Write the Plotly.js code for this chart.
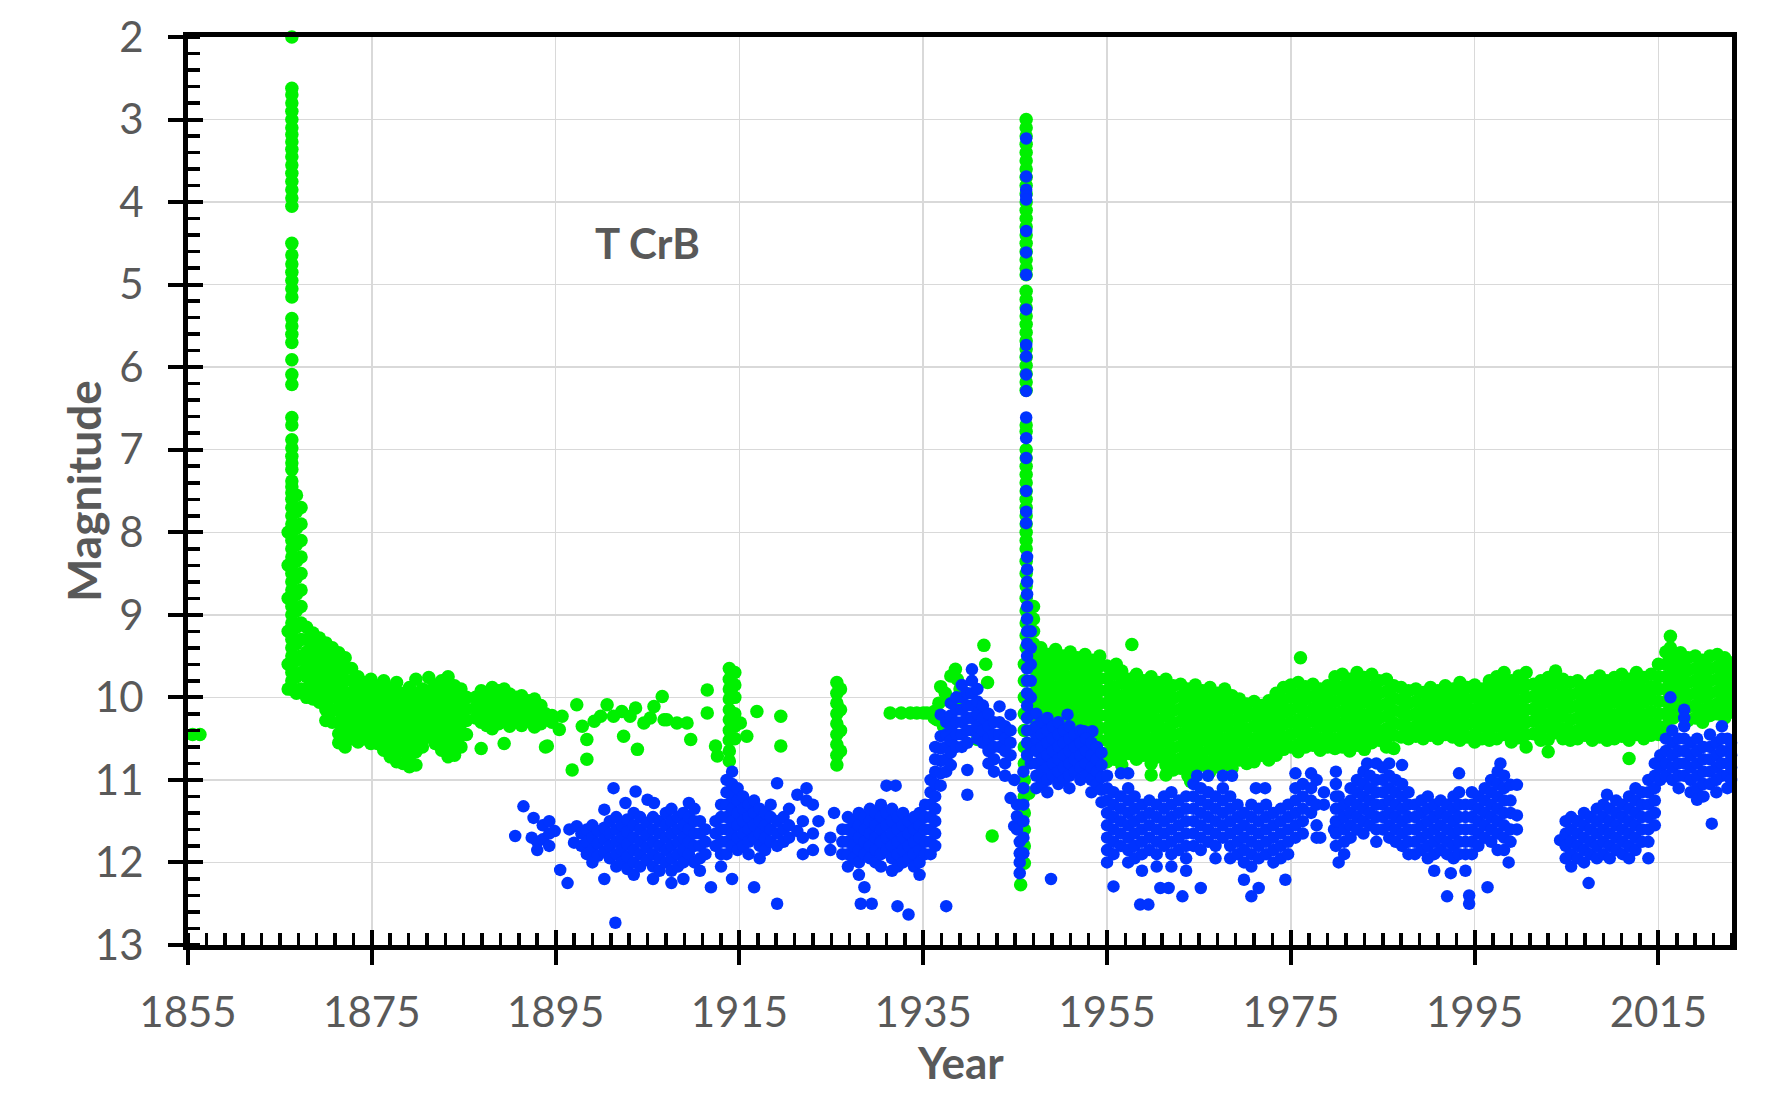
<!DOCTYPE html>
<html>
<head>
<meta charset="utf-8">
<script src="https://cdn.plot.ly/plotly-3.0.1.min.js"></script>
<style>
html, body { margin:0; padding:0; background:#fff; }
#gplot { width:1782px; height:1104px; }
</style>
</head>
<body>
<div id="gplot"></div>
<script>
// T CrB light curve, visual (green) and photographic/blue (blue) magnitudes
// each row: [year, mag, mag, ...]

var yearTicks = [1855, 1875, 1895, 1915, 1935, 1955, 1975, 1995, 2015];
var magTicks = [2, 3, 4, 5, 6, 7, 8, 9, 10, 11, 12, 13];

// green: 1855 - 1946
var greenEarly = [
  [1855.5, 10.45], [1856.3, 10.45],
  [1866.3, 2.0, 2.62, 2.7, 2.8, 2.9, 3.0, 3.1, 3.18, 3.27, 3.36, 3.45, 3.55, 3.65, 3.75, 3.85, 3.95, 4.05,
    4.5, 4.64, 4.75, 4.85, 4.95, 5.05, 5.15, 5.41, 5.5, 5.6, 5.7, 5.91, 6.09, 6.21, 6.61, 6.7,
    6.88, 6.98, 7.08, 7.16, 7.24, 7.38, 7.45, 7.52, 7.6, 7.7, 7.8, 7.9, 8.0, 8.1, 8.2, 8.3, 8.4,
    8.5, 8.6, 8.7, 8.8, 8.9, 9.0, 9.1, 9.2, 9.3, 9.4, 9.5, 9.6, 9.7, 9.8, 9.9],
  [1865.9, 8.0, 8.4, 8.8, 9.2, 9.6, 9.9],
  [1866.8, 7.55, 7.75, 7.95, 8.15, 8.35, 8.55, 8.75, 8.95, 9.15, 9.35, 9.55, 9.75, 9.95],
  [1867.3, 7.7, 7.9, 8.1, 8.3, 8.5, 8.7, 8.9, 9.1, 9.3, 9.5, 9.7, 9.9],
  [1867.9, 9.15, 9.3, 9.45, 9.6, 9.75, 9.9, 10.0],
  [1868.6, 9.22, 9.36, 9.5, 9.64, 9.78, 9.92, 10.02],
  [1869.3, 9.28, 9.42, 9.56, 9.7, 9.84, 9.98, 10.06],
  [1870.0, 9.34, 9.48, 9.62, 9.76, 9.9, 10.04, 10.15, 10.28],
  [1870.7, 9.4, 9.55, 9.7, 9.85, 10.0, 10.15, 10.3],
  [1871.4, 9.46, 9.6, 9.74, 9.88, 10.02, 10.16, 10.3, 10.44, 10.55],
  [1872.1, 9.52, 9.66, 9.8, 9.94, 10.08, 10.22, 10.36, 10.5, 10.6],
  [1872.8, 9.65, 9.8, 9.95, 10.1, 10.25, 10.4, 10.5],
  [1873.5, 9.75, 9.88, 10.02, 10.16, 10.3, 10.44, 10.54],
  [1874.2, 9.82, 9.96, 10.1, 10.24, 10.38, 10.5],
  [1874.9, 9.78, 9.92, 10.06, 10.2, 10.34, 10.48, 10.56],
  [1875.6, 9.86, 10.0, 10.14, 10.28, 10.42, 10.56],
  [1876.3, 9.8, 9.94, 10.08, 10.22, 10.36, 10.5, 10.64],
  [1877.0, 9.9, 10.04, 10.18, 10.32, 10.46, 10.6, 10.72],
  [1877.7, 9.82, 9.96, 10.1, 10.24, 10.38, 10.52, 10.66, 10.78],
  [1878.4, 9.95, 10.09, 10.23, 10.37, 10.51, 10.65, 10.8],
  [1879.1, 9.88, 10.02, 10.16, 10.3, 10.44, 10.58, 10.72, 10.84],
  [1879.8, 9.78, 9.95, 10.1, 10.24, 10.38, 10.52, 10.66, 10.82],
  [1880.5, 9.9, 10.04, 10.18, 10.32, 10.46, 10.6],
  [1881.2, 9.76, 9.92, 10.06, 10.2, 10.34, 10.48],
  [1881.9, 9.85, 10.0, 10.14, 10.28, 10.42, 10.56],
  [1882.6, 9.8, 9.95, 10.1, 10.24, 10.38, 10.5, 10.64],
  [1883.3, 9.75, 9.9, 10.05, 10.2, 10.34, 10.48, 10.62, 10.72],
  [1884.0, 9.86, 10.0, 10.14, 10.28, 10.42, 10.56, 10.7],
  [1884.7, 9.9, 10.04, 10.18, 10.32, 10.46, 10.6],
  [1885.3, 10.0, 10.14, 10.28, 10.45],
  [1886.3, 10.0, 10.12, 10.25],
  [1886.9, 9.92, 10.05, 10.18, 10.3, 10.62],
  [1887.5, 9.95, 10.08, 10.2, 10.34],
  [1888.1, 9.88, 10.0, 10.14, 10.26, 10.38],
  [1888.8, 9.92, 10.06, 10.2, 10.32],
  [1889.4, 9.9, 10.02, 10.16, 10.28, 10.56],
  [1890.0, 9.96, 10.1, 10.22, 10.35],
  [1890.7, 10.0, 10.12, 10.26],
  [1891.3, 9.98, 10.1, 10.22, 10.34],
  [1892.0, 10.04, 10.16, 10.28],
  [1892.7, 10.02, 10.14, 10.26, 10.36],
  [1893.4, 10.1, 10.22, 10.32],
  [1893.9, 10.2, 10.6],
  [1894.1, 10.59], [1894.6, 10.22, 10.3],
  [1895.4, 10.39], [1895.7, 10.23], [1896.8, 10.88], [1897.3, 10.09], [1897.9, 10.35],
  [1898.4, 10.51, 10.75], [1899.2, 10.29], [1899.9, 10.23], [1900.6, 10.09], [1901.3, 10.23],
  [1902.2, 10.17], [1902.4, 10.47], [1903.1, 10.23], [1903.7, 10.13], [1903.9, 10.63],
  [1904.6, 10.31], [1905.3, 10.25], [1905.7, 10.11], [1906.6, 9.99], [1906.8, 10.27],
  [1907.1, 10.27], [1908.2, 10.31], [1909.3, 10.31], [1909.7, 10.51],
  [1911.5, 9.91, 10.19], [1912.4, 10.59], [1912.6, 10.71],
  [1913.9, 9.65, 9.78, 9.9, 10.02, 10.15, 10.27, 10.4, 10.52, 10.65, 10.77],
  [1914.5, 9.7, 9.85, 10.0, 10.2, 10.35, 10.5],
  [1915.1, 10.31], [1915.8, 10.47], [1916.9, 10.17], [1919.5, 10.23, 10.59],
  [1925.6, 9.82, 9.95, 10.07, 10.2, 10.32, 10.45, 10.57, 10.7, 10.82],
  [1926.0, 9.9, 10.15, 10.4, 10.65],
  [1931.4, 10.19], [1932.6, 10.19], [1933.6, 10.19], [1934.3, 10.19], [1935.0, 10.19], [1935.4, 10.19],
  [1936.2, 10.17, 10.25], [1936.5, 10.27], [1936.7, 10.07], [1936.9, 9.87], [1937.2, 10.35],
  [1937.4, 9.95], [1938.0, 9.74, 10.03], [1938.5, 9.66], [1938.7, 9.78],
  [1939.0, 9.9, 10.1], [1939.6, 9.95], [1940.9, 10.51],
  [1941.6, 9.37], [1941.8, 9.6], [1942.0, 9.82], [1942.5, 11.68]
];

// green: 1946 outburst
var greenSpike = [
  [1946.2, 3.0, 3.1, 3.2, 3.3, 3.4, 3.5, 3.6, 3.7, 3.8, 3.9, 4.0, 4.1, 4.2, 4.3, 4.4, 4.5, 4.6, 4.7,
    4.8, 4.88, 5.08, 5.18, 5.28, 5.38, 5.48, 5.58, 5.68, 5.78, 5.88, 5.98, 6.08, 6.18, 6.28, 6.7,
    6.78, 7.0, 7.1, 7.2, 7.3, 7.4, 7.5, 7.6, 7.7, 7.8, 7.9, 8.0, 8.1, 8.2, 8.35, 8.5, 8.65, 8.8,
    8.95, 9.1, 9.25, 9.4],
  [1946.0, 9.6, 9.8, 10.0, 10.2, 10.4, 10.6, 10.8, 11.0, 11.2, 11.4, 11.6, 11.8, 12.01],
  [1945.6, 12.27], [1946.5, 11.16]
];

// green: 1947 - 2023
var greenLate = [
  [1947.0, 8.9, 9.05, 9.2, 9.35, 9.5, 9.65, 9.8, 9.95, 10.1, 10.25, 10.4],
  [1947.8, 9.4, 9.55, 9.7, 9.85, 10.0, 10.15, 10.3, 10.45, 10.6],
  [1948.6, 9.48, 9.63, 9.78, 9.93, 10.08, 10.23, 10.38, 10.53, 10.65],
  [1949.4, 9.42, 9.57, 9.72, 9.87, 10.02, 10.17, 10.32, 10.47, 10.62],
  [1950.2, 9.5, 9.65, 9.8, 9.95, 10.1, 10.25, 10.4, 10.55, 10.68],
  [1951.0, 9.45, 9.6, 9.75, 9.9, 10.05, 10.2, 10.35, 10.5, 10.65],
  [1951.8, 9.52, 9.67, 9.82, 9.97, 10.12, 10.27, 10.42, 10.57, 10.7],
  [1952.6, 9.48, 9.63, 9.78, 9.93, 10.08, 10.23, 10.38, 10.53, 10.68, 10.8],
  [1953.4, 9.55, 9.7, 9.85, 10.0, 10.15, 10.3, 10.45, 10.6, 10.75],
  [1954.2, 9.5, 9.62, 9.77, 9.92, 10.07, 10.22, 10.37, 10.52, 10.67, 10.8],
  [1955.0, 9.62, 9.77, 9.92, 10.07, 10.22, 10.37, 10.52, 10.67, 10.78],
  [1955.8, 9.72, 9.87, 10.02, 10.17, 10.32, 10.47, 10.62, 10.75],
  [1956.0, 9.6],
  [1956.6, 9.68, 9.83, 9.98, 10.13, 10.28, 10.43, 10.58, 10.72, 10.82],
  [1957.4, 9.78, 9.93, 10.08, 10.23, 10.38, 10.53, 10.68],
  [1957.7, 9.36],
  [1958.2, 9.72, 9.87, 10.02, 10.17, 10.32, 10.47, 10.62, 10.75],
  [1959.0, 9.8, 9.95, 10.1, 10.25, 10.4, 10.55, 10.7],
  [1959.8, 9.75, 9.9, 10.05, 10.2, 10.35, 10.5, 10.65, 10.8, 10.94],
  [1960.6, 9.82, 9.97, 10.12, 10.27, 10.42, 10.57, 10.72],
  [1961.4, 9.78, 9.93, 10.08, 10.23, 10.38, 10.53, 10.68, 10.82, 10.94],
  [1962.2, 9.86, 10.01, 10.16, 10.31, 10.46, 10.61, 10.76, 10.88],
  [1963.0, 9.84, 9.99, 10.14, 10.29, 10.44, 10.59, 10.74, 10.86],
  [1963.8, 9.9, 10.05, 10.2, 10.35, 10.5, 10.65, 10.8, 10.95],
  [1964.1, 11.02],
  [1964.6, 9.85, 10.0, 10.15, 10.3, 10.45, 10.6, 10.75, 10.88],
  [1965.4, 9.92, 10.07, 10.22, 10.37, 10.52, 10.67, 10.82],
  [1966.2, 9.88, 10.03, 10.18, 10.33, 10.48, 10.63, 10.78, 10.9],
  [1967.0, 9.95, 10.1, 10.25, 10.4, 10.55, 10.7, 10.84],
  [1967.8, 9.9, 10.05, 10.2, 10.35, 10.5, 10.65, 10.8],
  [1968.6, 9.98, 10.13, 10.28, 10.43, 10.58, 10.73, 10.86],
  [1969.4, 10.02, 10.17, 10.32, 10.47, 10.62, 10.76],
  [1970.2, 10.08, 10.23, 10.38, 10.53, 10.68, 10.8],
  [1971.0, 10.05, 10.2, 10.35, 10.5, 10.65, 10.78],
  [1971.8, 10.1, 10.25, 10.4, 10.55, 10.7],
  [1972.6, 10.04, 10.19, 10.34, 10.49, 10.64, 10.76],
  [1973.4, 9.95, 10.1, 10.25, 10.4, 10.55, 10.7],
  [1974.2, 9.88, 10.03, 10.18, 10.33, 10.48, 10.63],
  [1975.0, 9.85, 10.0, 10.15, 10.3, 10.45, 10.6],
  [1975.8, 9.82, 9.97, 10.12, 10.27, 10.42, 10.57, 10.66],
  [1976.05, 9.52],
  [1976.6, 9.87, 10.02, 10.17, 10.32, 10.47, 10.6],
  [1977.4, 9.84, 9.99, 10.14, 10.29, 10.44, 10.58],
  [1978.2, 9.9, 10.05, 10.2, 10.35, 10.5, 10.64],
  [1979.0, 9.86, 10.01, 10.16, 10.31, 10.46, 10.6],
  [1979.8, 9.75, 9.9, 10.05, 10.2, 10.35, 10.5, 10.62],
  [1980.6, 9.72, 9.87, 10.02, 10.17, 10.32, 10.47, 10.6],
  [1981.4, 9.78, 9.93, 10.08, 10.23, 10.38, 10.53, 10.65],
  [1982.2, 9.7, 9.85, 10.0, 10.15, 10.3, 10.45, 10.58],
  [1983.0, 9.76, 9.91, 10.06, 10.21, 10.36, 10.51, 10.63],
  [1983.8, 9.72, 9.87, 10.02, 10.17, 10.32, 10.47, 10.55],
  [1984.6, 9.8, 9.95, 10.1, 10.25, 10.4, 10.52],
  [1985.4, 9.78, 9.93, 10.08, 10.23, 10.38, 10.5, 10.6],
  [1986.2, 9.86, 10.01, 10.16, 10.31, 10.46, 10.62],
  [1987.0, 9.88, 10.03, 10.18, 10.33, 10.48],
  [1987.8, 9.92, 10.07, 10.22, 10.37, 10.5],
  [1988.6, 9.9, 10.05, 10.2, 10.35, 10.47],
  [1989.4, 9.94, 10.09, 10.24, 10.39, 10.5],
  [1990.2, 9.88, 10.03, 10.18, 10.33, 10.46],
  [1991.0, 9.92, 10.07, 10.22, 10.37, 10.5],
  [1991.8, 9.86, 10.01, 10.16, 10.31, 10.45],
  [1992.6, 9.9, 10.05, 10.2, 10.35, 10.48],
  [1993.4, 9.82, 9.97, 10.12, 10.27, 10.42, 10.52],
  [1994.2, 9.88, 10.03, 10.18, 10.33, 10.48],
  [1995.0, 9.85, 10.0, 10.15, 10.3, 10.45, 10.54],
  [1995.8, 9.9, 10.05, 10.2, 10.35, 10.5],
  [1996.6, 9.8, 9.95, 10.1, 10.25, 10.4, 10.52],
  [1997.4, 9.75, 9.9, 10.05, 10.2, 10.35, 10.5],
  [1998.2, 9.7, 9.85, 10.0, 10.15, 10.3, 10.45],
  [1999.0, 9.8, 9.95, 10.1, 10.25, 10.4, 10.54],
  [1999.8, 9.74, 9.89, 10.04, 10.19, 10.34, 10.49],
  [2000.6, 9.7, 9.85, 10.0, 10.15, 10.3, 10.45, 10.6],
  [2001.4, 9.84, 9.99, 10.14, 10.29, 10.44],
  [2002.2, 9.8, 9.95, 10.1, 10.25, 10.4, 10.52],
  [2003.0, 9.76, 9.91, 10.06, 10.21, 10.36, 10.51, 10.66],
  [2003.8, 9.68, 9.83, 9.98, 10.13, 10.28, 10.43],
  [2004.6, 9.78, 9.93, 10.08, 10.23, 10.38, 10.5],
  [2005.4, 9.82, 9.97, 10.12, 10.27, 10.42, 10.52],
  [2006.2, 9.8, 9.95, 10.1, 10.25, 10.4, 10.5],
  [2007.0, 9.86, 10.01, 10.16, 10.31, 10.46],
  [2007.8, 9.8, 9.95, 10.1, 10.25, 10.4, 10.52],
  [2008.6, 9.74, 9.89, 10.04, 10.19, 10.34, 10.48],
  [2009.4, 9.8, 9.95, 10.1, 10.25, 10.4, 10.52],
  [2010.2, 9.76, 9.91, 10.06, 10.21, 10.36, 10.5],
  [2011.0, 9.72, 9.87, 10.02, 10.17, 10.32, 10.47],
  [2011.8, 9.78, 9.93, 10.08, 10.23, 10.38, 10.52, 10.74],
  [2012.6, 9.7, 9.85, 10.0, 10.15, 10.3, 10.45],
  [2013.4, 9.76, 9.91, 10.06, 10.21, 10.36, 10.5],
  [2014.2, 9.72, 9.87, 10.02, 10.17, 10.32, 10.46],
  [2015.0, 9.6, 9.75, 9.9, 10.05, 10.2, 10.35, 10.45],
  [2015.8, 9.45, 9.6, 9.75, 9.9, 10.05, 10.2, 10.35],
  [2016.3, 9.26, 9.4],
  [2016.6, 9.5, 9.65, 9.8, 9.95, 10.1, 10.25],
  [2017.4, 9.46, 9.61, 9.76, 9.91, 10.06, 10.21],
  [2018.2, 9.52, 9.67, 9.82, 9.97, 10.12, 10.28],
  [2019.0, 9.5, 9.65, 9.8, 9.95, 10.1, 10.25],
  [2019.8, 9.55, 9.7, 9.85, 10.0, 10.15, 10.3],
  [2020.6, 9.5, 9.65, 9.8, 9.95, 10.1, 10.22],
  [2021.4, 9.48, 9.63, 9.78, 9.93, 10.08, 10.2],
  [2022.2, 9.52, 9.67, 9.82, 9.97, 10.12, 10.25],
  [2022.8, 9.58, 9.73, 9.88, 10.03, 10.18]
];

// blue: 1890 - 1945
var blueEarly = [
  [1890.6, 11.68], [1891.5, 11.32], [1892.4, 11.7], [1892.6, 11.46], [1893.0, 11.75, 11.85],
  [1893.6, 11.55, 11.72], [1894.3, 11.5, 11.65, 11.8], [1894.9, 11.62], [1895.5, 12.09],
  [1896.3, 12.25], [1896.5, 11.6], [1897.0, 11.76], [1897.3, 11.56],
  [1897.8, 11.65, 11.8],
  [1898.4, 11.6, 11.75, 11.9],
  [1899.0, 11.55, 11.7, 11.85, 12.0],
  [1899.6, 11.62, 11.77, 11.92],
  [1900.3, 11.36, 11.58, 11.72, 11.87, 12.2],
  [1900.9, 11.5, 11.65, 11.8, 11.95],
  [1901.3, 11.1], [1901.5, 12.73],
  [1901.6, 11.45, 11.6, 11.75, 11.9, 12.05],
  [1902.2, 11.55, 11.7, 11.85, 12.0],
  [1902.6, 11.28],
  [1902.8, 11.48, 11.63, 11.78, 11.93, 12.08],
  [1903.5, 11.4, 11.55, 11.7, 11.85, 12.0, 12.15],
  [1903.7, 11.14],
  [1904.2, 11.45, 11.6, 11.75, 11.9, 12.05],
  [1904.9, 11.52, 11.67, 11.82, 11.97],
  [1905.0, 11.24], [1905.7, 11.28],
  [1905.6, 11.45, 11.6, 11.75, 11.9, 12.05, 12.2],
  [1906.3, 11.5, 11.65, 11.8, 11.95, 12.1],
  [1907.0, 11.4, 11.55, 11.7, 11.85, 12.0],
  [1907.6, 11.35, 11.5, 11.65, 11.8, 11.95, 12.1, 12.25],
  [1908.3, 11.45, 11.6, 11.75, 11.9, 12.05],
  [1908.9, 11.4, 11.55, 11.7, 11.85, 12.0, 12.2],
  [1909.5, 11.28, 11.45, 11.6, 11.75, 11.9],
  [1910.1, 11.35, 11.5, 11.65, 11.8, 12.0],
  [1910.7, 11.5, 11.65, 11.8, 11.95, 12.1],
  [1911.3, 11.6, 11.75, 11.9],
  [1911.9, 12.3],
  [1912.4, 11.5, 11.65, 11.8],
  [1913.0, 11.3, 11.45, 11.6, 11.75, 11.9, 12.05],
  [1913.6, 11.0, 11.15, 11.3, 11.45, 11.6, 11.75, 11.9],
  [1914.2, 10.9, 11.05, 11.2, 11.35, 11.5, 11.65, 11.8, 12.2],
  [1914.8, 11.1, 11.25, 11.4, 11.55, 11.7, 11.85],
  [1915.4, 11.2, 11.35, 11.5, 11.65, 11.8],
  [1916.0, 11.3, 11.45, 11.6, 11.75, 11.9],
  [1916.6, 11.25, 11.4, 11.55, 11.7, 12.3],
  [1917.2, 11.35, 11.5, 11.65, 11.8, 11.95],
  [1917.8, 11.4, 11.55, 11.7, 11.85],
  [1918.4, 11.3, 11.45, 11.6, 11.75],
  [1919.1, 11.04, 11.5, 11.65, 11.8, 12.5],
  [1919.8, 11.45, 11.6, 11.75],
  [1920.4, 11.35, 11.55, 11.7],
  [1921.3, 11.18, 11.62],
  [1921.9, 11.5, 11.7, 11.9],
  [1922.3, 11.1, 11.25],
  [1923.0, 11.3, 11.65, 11.85],
  [1923.6, 11.5],
  [1924.9, 11.7, 11.85],
  [1925.3, 11.4],
  [1926.2, 11.6, 11.75, 11.9],
  [1926.8, 11.45, 11.6, 11.75, 11.9, 12.05],
  [1927.4, 11.5, 11.65, 11.8, 11.95],
  [1928.0, 11.4, 11.55, 11.7, 11.85, 12.0, 12.15],
  [1928.2, 12.5],
  [1928.6, 11.45, 11.6, 11.75, 11.9, 12.3],
  [1929.2, 11.35, 11.5, 11.65, 11.8, 11.95],
  [1929.4, 12.5],
  [1929.8, 11.4, 11.55, 11.7, 11.85, 12.0],
  [1930.4, 11.3, 11.45, 11.6, 11.75, 11.9, 12.05],
  [1931.0, 11.07, 11.4, 11.55, 11.7, 11.85],
  [1931.6, 11.35, 11.5, 11.65, 11.8, 11.95, 12.1],
  [1932.0, 11.07],
  [1932.2, 11.45, 11.6, 11.75, 11.9, 12.05, 12.53],
  [1932.8, 11.4, 11.55, 11.7, 11.85, 12.0],
  [1933.4, 11.5, 11.65, 11.8, 11.95, 12.63],
  [1934.0, 11.45, 11.6, 11.75, 11.9, 12.05],
  [1934.6, 11.4, 11.55, 11.7, 11.85, 12.0, 12.15],
  [1935.2, 11.3, 11.45, 11.6, 11.75, 11.9],
  [1935.8, 11.0, 11.15, 11.3, 11.45, 11.6, 11.75, 11.9],
  [1936.3, 10.6, 10.75, 10.9, 11.05, 11.2, 11.35, 11.5, 11.65, 11.8],
  [1936.9, 10.21, 10.47, 10.62, 10.77, 10.92, 11.07],
  [1937.5, 10.3, 10.45, 10.6, 10.75, 10.9, 12.53],
  [1938.0, 10.07, 10.22, 10.37, 10.52, 10.67, 10.82],
  [1938.6, 10.0, 10.15, 10.3, 10.45, 10.6],
  [1939.2, 9.85, 10.0, 10.15, 10.3, 10.45, 10.6],
  [1939.8, 9.95, 10.1, 10.25, 10.4, 10.55, 10.88, 11.18],
  [1940.3, 9.66, 9.8, 9.95, 10.1, 10.25, 10.4],
  [1940.9, 9.9, 10.05, 10.2, 10.35, 10.5],
  [1941.5, 10.1, 10.25, 10.4, 10.55],
  [1942.1, 10.2, 10.35, 10.5, 10.65, 10.8],
  [1942.7, 10.3, 10.45, 10.6, 10.75, 10.9],
  [1943.3, 10.11, 10.3, 10.45, 10.6],
  [1943.9, 10.35, 10.5, 10.65, 10.8, 10.95],
  [1944.5, 10.21, 10.4, 10.55, 10.7, 11.22],
  [1944.9, 11.0, 11.56],
  [1945.2, 11.3, 11.44, 11.6],
  [1945.5, 11.75, 11.89, 12.0, 12.13],
  [1945.9, 10.9, 11.1, 11.3, 11.5, 11.7, 11.89]
];

// blue: 1946 outburst
var blueSpike = [
  [1946.2, 3.23, 3.69, 3.85, 3.92, 3.97, 4.35, 4.61, 4.88, 5.3, 5.73, 5.87, 6.09, 6.29, 6.61,
    6.86, 7.1, 7.5, 7.75, 7.89],
  [1946.3, 8.3, 8.45, 8.6, 8.75, 8.9, 9.05, 9.2, 9.35, 9.5, 9.65, 9.8, 9.95, 10.1, 10.25, 10.4,
    10.55, 10.7],
  [1946.7, 9.2, 9.4, 9.6, 9.8, 10.0, 10.2, 10.4, 10.6, 10.8]
];

// blue: 1947 - 2023
var blueLate = [
  [1947.3, 10.2, 10.35, 10.5, 10.65, 10.8, 10.95, 11.1],
  [1947.9, 10.3, 10.45, 10.6, 10.75, 10.9, 11.05],
  [1948.5, 10.25, 10.4, 10.55, 10.7, 10.85, 11.0, 11.15],
  [1948.9, 12.2],
  [1949.1, 10.35, 10.5, 10.65, 10.8, 10.95],
  [1949.7, 10.3, 10.45, 10.6, 10.75, 10.9, 11.05],
  [1950.3, 10.4, 10.55, 10.7, 10.85, 11.0],
  [1950.7, 10.21],
  [1950.9, 10.35, 10.5, 10.65, 10.8, 10.95, 11.1],
  [1951.5, 10.45, 10.6, 10.75, 10.9],
  [1952.1, 10.4, 10.55, 10.7, 10.85, 11.0],
  [1952.5, 10.41], [1953.4, 10.41],
  [1952.7, 10.5, 10.65, 10.8, 10.95],
  [1953.3, 10.55, 10.7, 10.85, 11.0, 11.15],
  [1953.9, 10.6, 10.75, 10.9, 11.05],
  [1954.4, 10.67, 10.82, 10.97, 11.12, 11.27],
  [1955.0, 10.95, 11.1, 11.25, 11.4, 11.55, 11.7, 11.85, 12.0],
  [1955.7, 11.15, 11.3, 11.45, 11.6, 11.75, 11.9, 12.29],
  [1956.5, 10.92, 11.2, 11.35, 11.5, 11.65, 11.8],
  [1957.3, 10.92, 11.1, 11.25, 11.4, 11.55, 11.7, 11.85, 12.0],
  [1958.0, 11.2, 11.35, 11.5, 11.65, 11.8, 11.95],
  [1958.6, 12.51], [1959.5, 12.51],
  [1958.8, 11.3, 11.45, 11.6, 11.75, 11.9, 12.1],
  [1959.6, 11.25, 11.4, 11.55, 11.7, 11.85],
  [1960.4, 11.3, 11.45, 11.6, 11.75, 11.9, 12.05],
  [1960.8, 12.31], [1961.7, 12.31],
  [1961.2, 11.2, 11.35, 11.5, 11.65, 11.8],
  [1962.0, 11.15, 11.3, 11.45, 11.6, 11.75, 11.9, 12.05],
  [1962.8, 11.25, 11.4, 11.55, 11.7, 11.85],
  [1963.2, 12.41],
  [1963.6, 11.2, 11.35, 11.5, 11.65, 11.8, 11.95, 12.1],
  [1964.4, 11.05, 11.2, 11.35, 11.5, 11.65, 11.8],
  [1964.8, 10.95],
  [1965.2, 11.1, 11.25, 11.4, 11.55, 11.7, 11.85, 12.31],
  [1966.0, 10.95, 11.15, 11.3, 11.45, 11.6, 11.75],
  [1966.8, 11.2, 11.35, 11.5, 11.65, 11.8, 11.95],
  [1967.6, 10.95, 11.1, 11.25, 11.4, 11.55, 11.7],
  [1968.4, 11.2, 11.35, 11.5, 11.65, 11.8, 11.95],
  [1968.6, 10.95],
  [1969.2, 11.3, 11.45, 11.6, 11.75, 11.9],
  [1969.9, 11.4, 11.55, 11.7, 11.85, 12.0, 12.21],
  [1970.7, 11.3, 11.45, 11.6, 11.75, 11.9, 12.05, 12.41],
  [1971.2, 11.1], [1972.2, 11.1],
  [1971.5, 11.35, 11.5, 11.65, 11.8, 11.95, 12.31],
  [1972.3, 11.3, 11.45, 11.6, 11.75, 11.9],
  [1973.1, 11.4, 11.55, 11.7, 11.85, 12.0],
  [1973.9, 11.35, 11.5, 11.65, 11.8, 11.95],
  [1974.4, 12.21],
  [1974.7, 11.3, 11.45, 11.6, 11.75, 11.9],
  [1975.5, 10.92, 11.1, 11.25, 11.4, 11.55, 11.7],
  [1976.3, 11.05, 11.2, 11.35, 11.5, 11.65],
  [1977.2, 10.92, 11.1, 11.25, 11.4],
  [1977.8, 11.0, 11.3, 11.55, 11.7],
  [1978.2, 11.7],
  [1978.6, 11.15, 11.3],
  [1979.7, 11.6],
  [1979.9, 10.9, 11.05, 11.2, 11.35, 11.5, 11.65, 11.8],
  [1980.2, 11.2, 11.35, 11.5, 12.0],
  [1980.8, 11.3, 11.45, 11.6, 11.75, 11.9],
  [1981.5, 11.1, 11.25, 11.4, 11.55, 11.7],
  [1982.2, 11.0, 11.15, 11.3, 11.45, 11.6],
  [1982.9, 10.9, 11.05, 11.2, 11.35, 11.5, 11.65],
  [1983.3, 10.8],
  [1983.6, 10.95, 11.1, 11.25, 11.4, 11.55],
  [1984.3, 10.8, 11.0, 11.15, 11.3, 11.45, 11.6, 11.75],
  [1985.0, 10.85, 11.0, 11.15, 11.3, 11.45, 11.6],
  [1985.7, 10.8, 10.95, 11.1, 11.25, 11.4, 11.55, 11.7],
  [1986.4, 11.0, 11.15, 11.3, 11.45, 11.6, 11.75],
  [1987.1, 10.82, 11.05, 11.2, 11.35, 11.5, 11.65, 11.8],
  [1987.8, 11.15, 11.3, 11.45, 11.6, 11.75, 11.9],
  [1988.5, 11.3, 11.45, 11.6, 11.75, 11.9],
  [1989.2, 11.25, 11.4, 11.55, 11.7, 11.85],
  [1989.9, 11.2, 11.35, 11.5, 11.65, 11.8, 11.95],
  [1990.6, 11.3, 11.45, 11.6, 11.75, 11.9, 12.1],
  [1991.3, 11.25, 11.4, 11.55, 11.7, 11.85],
  [1992.0, 11.3, 11.45, 11.6, 11.75, 11.9, 12.41],
  [1992.4, 12.13],
  [1992.7, 11.2, 11.35, 11.5, 11.65, 11.8, 11.95],
  [1993.3, 10.92, 11.15, 11.3, 11.45, 11.6, 11.75, 11.9],
  [1994.0, 11.3, 11.45, 11.6, 11.75, 11.9, 12.1],
  [1994.4, 12.4, 12.5],
  [1994.7, 11.15, 11.3, 11.45, 11.6, 11.75, 11.9],
  [1995.4, 11.2, 11.35, 11.5, 11.65, 11.8],
  [1996.1, 11.1, 11.25, 11.4, 11.55, 11.7],
  [1996.4, 12.3],
  [1996.8, 11.0, 11.15, 11.3, 11.45, 11.6, 11.75],
  [1997.5, 10.9, 11.05, 11.2, 11.35, 11.5, 11.65, 11.85],
  [1997.8, 10.8],
  [1998.2, 10.95, 11.1, 11.25, 11.4, 11.55, 11.7, 11.85],
  [1998.7, 12.0],
  [1998.9, 11.06, 11.25, 11.4, 11.6, 11.75],
  [1999.6, 11.06, 11.43, 11.6],
  [2004.3, 11.73],
  [2004.9, 11.5, 11.65, 11.8, 11.95],
  [2005.5, 11.45, 11.6, 11.75, 11.9, 12.05],
  [2006.2, 11.5, 11.65, 11.8, 11.95],
  [2006.9, 11.4, 11.55, 11.7, 11.85, 12.0],
  [2007.4, 12.25],
  [2007.6, 11.45, 11.6, 11.75, 11.9],
  [2008.3, 11.35, 11.5, 11.65, 11.8, 11.95],
  [2009.0, 11.3, 11.45, 11.6, 11.75, 11.9],
  [2009.4, 11.18],
  [2009.7, 11.35, 11.5, 11.65, 11.8, 11.95],
  [2010.4, 11.25, 11.4, 11.55, 11.7, 11.85],
  [2011.1, 11.3, 11.45, 11.6, 11.75, 11.9],
  [2011.8, 11.2, 11.35, 11.5, 11.65, 11.8, 11.95],
  [2012.5, 11.1, 11.25, 11.4, 11.55, 11.7, 11.85],
  [2013.2, 11.15, 11.3, 11.45, 11.6, 11.75],
  [2013.9, 11.0, 11.15, 11.3, 11.45, 11.6, 11.75, 11.95],
  [2014.6, 10.8, 10.95, 11.1, 11.25, 11.4, 11.55],
  [2015.2, 10.7, 10.85, 11.0],
  [2015.8, 10.5, 10.65, 10.8, 10.95],
  [2016.3, 10.0],
  [2016.5, 10.4, 10.55, 10.7, 10.85, 11.0],
  [2017.2, 10.5, 10.65, 10.8, 10.95, 11.1],
  [2017.8, 10.15, 10.25, 10.35, 10.5, 10.65, 10.8, 10.95],
  [2018.5, 10.55, 10.7, 10.85, 11.0, 11.15],
  [2019.2, 10.5, 10.65, 10.8, 10.95, 11.1, 11.24],
  [2019.9, 10.6, 10.75, 10.9, 11.05, 11.2],
  [2020.6, 10.45, 10.6, 10.75, 10.9, 11.05],
  [2020.8, 11.53],
  [2021.3, 10.55, 10.7, 10.85, 11.0, 11.15],
  [2021.9, 10.35, 10.5, 10.65, 10.8, 10.95],
  [2022.5, 10.5, 10.65, 10.8, 10.95, 11.1],
  [2022.9, 10.55, 10.7, 10.85, 11.0]
];

function toXY(groups) {
  var x = [], y = [];
  groups.forEach(function(rows) {
    rows.forEach(function(r) {
      for (var i = 1; i < r.length; i++) {
        x.push(r[0]);
        y.push(r[i]);
      }
    });
  });
  return {x: x, y: y};
}

var g = toXY([greenEarly, greenSpike, greenLate]);
var b = toXY([blueEarly, blueSpike, blueLate]);

var trace1 = {
  x: g.x,
  y: g.y,
  type: 'scatter',
  mode: 'markers',
  name: 'Visual',
  cliponaxis: false,
  marker: { color: '#00f000', size: 13.5, line: { width: 0 } },
  xaxis: 'x',
  yaxis: 'y'
};

var trace2 = {
  x: b.x,
  y: b.y,
  type: 'scatter',
  mode: 'markers',
  name: 'Blue',
  cliponaxis: false,
  marker: { color: '#0033ff', size: 12.5, line: { width: 0 } },
  xaxis: 'x2',
  yaxis: 'y2'
};

var grey = '#595959';
var fnt = 'Lato, "Open Sans", sans-serif';

var layout = {
  width: 1782,
  height: 1104,
  showlegend: false,
  paper_bgcolor: 'white',
  plot_bgcolor: 'white',
  margin: { l: 188, r: 50, t: 37, b: 159, pad: 0 },
  font: { family: fnt, color: grey },
  xaxis: {
    range: [1855, 2023],
    tickvals: yearTicks,
    showgrid: true,
    gridcolor: '#d9d9d9',
    gridwidth: 1.5,
    zeroline: false,
    showline: true,
    linecolor: 'black',
    linewidth: 5,
    mirror: true,
    ticks: 'outside',
    ticklen: 15,
    tickwidth: 4,
    tickcolor: 'black',
    ticklabelstandoff: 12,
    tickfont: { family: fnt, size: 42, color: grey },
    minor: { dtick: 2, tick0: 1855, ticks: 'inside', ticklen: 12, tickwidth: 3.5, tickcolor: 'black', showgrid: false }
  },
  yaxis: {
    range: [13, 2],
    tickvals: magTicks,
    showgrid: true,
    gridcolor: '#d9d9d9',
    gridwidth: 1.5,
    zeroline: false,
    showline: true,
    linecolor: 'black',
    linewidth: 5,
    mirror: true,
    ticks: 'outside',
    ticklen: 15,
    tickwidth: 4,
    tickcolor: 'black',
    ticklabelstandoff: 16,
    tickfont: { family: fnt, size: 42, color: grey },
    minor: { dtick: 0.2, tick0: 2, ticks: 'inside', ticklen: 12, tickwidth: 3.5, tickcolor: 'black', showgrid: false }
  },
  // second pair of axes: carries the blue series and the inner half of the major ticks
  xaxis2: {
    overlaying: 'x',
    anchor: 'y2',
    side: 'bottom',
    range: [1855, 2023],
    tickvals: yearTicks,
    showgrid: false,
    zeroline: false,
    showline: false,
    showticklabels: false,
    ticks: 'inside',
    ticklen: 15,
    tickwidth: 4,
    tickcolor: 'black'
  },
  yaxis2: {
    overlaying: 'y',
    anchor: 'x2',
    side: 'left',
    range: [13, 2],
    tickvals: magTicks,
    showgrid: false,
    zeroline: false,
    showline: false,
    showticklabels: false,
    ticks: 'inside',
    ticklen: 15,
    tickwidth: 4,
    tickcolor: 'black'
  },
  annotations: [
    {
      text: '<b>T CrB</b>',
      showarrow: false,
      xref: 'x',
      yref: 'y',
      x: 1905,
      y: 4.5,
      font: { family: fnt, size: 42, color: grey }
    },
    {
      // y axis title
      text: '<b>Magnitude</b>',
      showarrow: false,
      textangle: -90,
      xref: 'paper',
      yref: 'paper',
      x: -0.068,
      y: 0.5,
      xanchor: 'center',
      yanchor: 'middle',
      font: { family: fnt, size: 46, color: grey }
    },
    {
      // x axis title
      text: '<b>Year</b>',
      showarrow: false,
      xref: 'paper',
      yref: 'paper',
      x: 0.5,
      y: -0.129,
      xanchor: 'center',
      yanchor: 'middle',
      font: { family: fnt, size: 44, color: grey }
    }
  ]
};

var data = [trace1, trace2];

Plotly.newPlot('gplot', data, layout, { displayModeBar: false, staticPlot: true });
</script>
</body>
</html>
